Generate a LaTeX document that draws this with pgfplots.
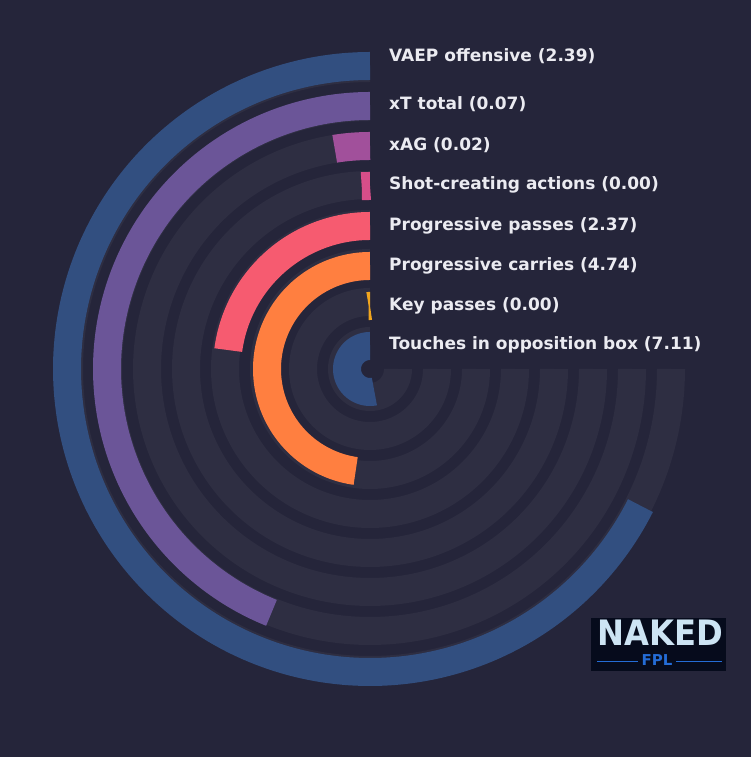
\documentclass[border=0pt]{standalone}
\usepackage{fontspec}
\setmainfont{DejaVu Sans}
\usepackage{pgfplots}
\pgfplotsset{compat=1.18}
\usepgfplotslibrary{polar}

\definecolor{bgcol}{RGB}{37,37,58}
\definecolor{trackcol}{RGB}{46,46,66}
\definecolor{txtcol}{RGB}{235,235,241}
\definecolor{vaep}{RGB}{50,79,128}
\definecolor{xtcol}{RGB}{107,85,152}
\definecolor{xagcol}{RGB}{161,80,155}
\definecolor{scacol}{RGB}{214,78,137}
\definecolor{ppcol}{RGB}{246,91,112}
\definecolor{pccol}{RGB}{255,127,64}
\definecolor{kpcol}{RGB}{240,165,30}
\definecolor{touchcol}{RGB}{50,79,130}
\definecolor{logobg}{RGB}{6,11,28}
\definecolor{logotxt}{RGB}{205,228,244}
\definecolor{logoblue}{RGB}{36,108,214}

\begin{document}
\begin{tikzpicture}[x=1bp,y=1bp]
\fill[bgcol] (0,0) rectangle (751,757);

\begin{polaraxis}[
  at={(370,388)}, anchor=center,
  width=634bp, height=634bp, scale only axis,
  xmin=0, xmax=360, ymin=0, ymax=317,
  hide axis, clip=false,
  samples=200,
  every axis plot/.append style={no markers, line cap=butt, line width=28bp},
]
% grey tracks, 270 degrees each (radius 28 + 39 i)
\addplot[trackcol, domain=90:360] {28};
\addplot[trackcol, domain=90:360] {67};
\addplot[trackcol, domain=90:360] {106};
\addplot[trackcol, domain=90:360] {145};
\addplot[trackcol, domain=90:360] {184};
\addplot[trackcol, domain=90:360] {223};
\addplot[trackcol, domain=90:360] {262};
\addplot[trackcol, domain=90:360] {301};

% bars: start at 90 deg, end angle
\addplot[touchcol, domain=90:281]   {23};  % Touches in opposition box
\addplot[kpcol,    domain=90:91.3]  {63};  % Key passes
\addplot[pccol,    domain=90:262]   {103}; % Progressive carries
\addplot[ppcol,    domain=90:172.4] {143}; % Progressive passes
\addplot[scacol,   domain=90:92.6]  {183}; % Shot-creating actions
\addplot[xagcol,   domain=90:99.1]  {223}; % xAG
\addplot[xtcol,    domain=90:248]   {263}; % xT total
\addplot[vaep,     domain=90:333.2] {303}; % VAEP offensive
\end{polaraxis}

\begin{scope}[every node/.style={anchor=base west, inner sep=0pt, text=txtcol,
    font=\fontsize{17bp}{20bp}\selectfont\bfseries}]
\node at (389,695.3) {VAEP offensive (2.39)};
\node at (389,647)   {xT total (0.07)};
\node at (389,606.3) {xAG (0.02)};
\node at (389,567)   {Shot-creating actions (0.00)};
\node at (389,526.5) {Progressive passes (2.37)};
\node at (389,486.3) {Progressive carries (4.74)};
\node at (389,446.3) {Key passes (0.00)};
\node at (389,407)   {Touches in opposition box (7.11)};
\end{scope}

% logo
\fill[logobg] (591,86) rectangle (726,139);
\node[anchor=base, inner sep=0pt, text=logotxt, xscale=0.92,
  font=\fontsize{35bp}{35bp}\selectfont\bfseries] at (660,111) {NAKED};
\node[anchor=base, inner sep=0pt, text=logoblue,
  font=\fontsize{15bp}{15bp}\selectfont\bfseries] at (657,91) {FPL};
\draw[logoblue, line width=1bp] (597,95) -- (638,95);
\draw[logoblue, line width=1bp] (676,95) -- (722,95);
\end{tikzpicture}
\end{document}
